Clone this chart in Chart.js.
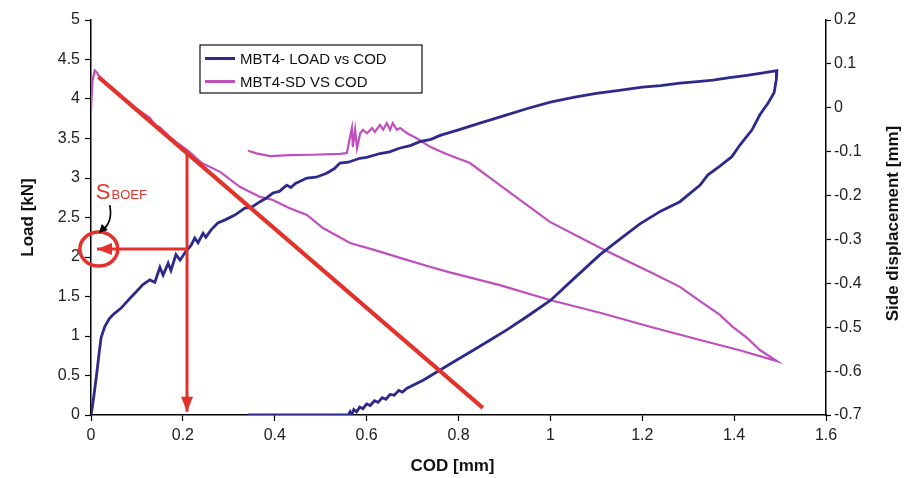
<!DOCTYPE html>
<html>
<head>
<meta charset="utf-8">
<script src="https://cdn.jsdelivr.net/npm/chart.js@4"></script>
<style>
  html, body { margin: 0; padding: 0; background: #fff; }
</style>
</head>
<body>
<canvas id="chart" width="912" height="478"></canvas>
<script>
// ticks
const codTicks = [0, 0.2, 0.4, 0.6, 0.8, 1, 1.2, 1.4, 1.6];
const loadTicks = [0, 0.5, 1, 1.5, 2, 2.5, 3, 3.5, 4, 4.5, 5];
const sdTicks = [-0.7, -0.6, -0.5, -0.4, -0.3, -0.2, -0.1, 0, 0.1, 0.2];

// MBT4 load vs COD (loading, then unloading)
const loadCod = [0, 0.003, 0.008, 0.013, 0.018, 0.022, 0.03, 0.04, 0.05, 0.065, 0.087, 0.1, 0.113, 0.128, 0.139,
  0.15, 0.157, 0.168, 0.174, 0.185, 0.194, 0.205, 0.218, 0.226, 0.233, 0.244, 0.25, 0.261, 0.276, 0.292, 0.313,
  0.335, 0.35, 0.368, 0.38, 0.396, 0.41, 0.426, 0.435, 0.445, 0.47, 0.49, 0.513, 0.53, 0.542, 0.56, 0.585, 0.6,
  0.629, 0.65, 0.673, 0.695, 0.716, 0.74, 0.76, 0.8, 0.85, 0.9, 0.95, 1.0, 1.05, 1.1, 1.15, 1.2, 1.24, 1.282,
  1.32, 1.354, 1.39, 1.428, 1.463, 1.493,
  1.492, 1.487, 1.474, 1.456, 1.439, 1.413, 1.395, 1.369, 1.343, 1.326, 1.282, 1.24, 1.195, 1.15, 1.108, 1.05,
  1.0, 0.95, 0.906, 0.869, 0.832, 0.797, 0.76, 0.723, 0.688, 0.678, 0.67, 0.66, 0.651, 0.642, 0.634, 0.625,
  0.617, 0.608, 0.6, 0.592, 0.585, 0.578, 0.572, 0.567, 0.564, 0.56, 0.45, 0.342];
const loadVal = [0, 0.1, 0.32, 0.55, 0.8, 0.98, 1.12, 1.22, 1.28, 1.35, 1.49, 1.57, 1.65, 1.71, 1.68,
  1.87, 1.77, 1.92, 1.83, 2.03, 1.96, 2.06, 2.15, 2.24, 2.18, 2.30, 2.25, 2.34, 2.43, 2.47, 2.53,
  2.62, 2.63, 2.70, 2.74, 2.81, 2.83, 2.91, 2.88, 2.93, 3.0, 3.01, 3.06, 3.12, 3.19, 3.2, 3.25, 3.26,
  3.31, 3.33, 3.38, 3.41, 3.46, 3.49, 3.54, 3.61, 3.70, 3.79, 3.88, 3.96, 4.02, 4.07, 4.11, 4.15, 4.17, 4.2,
  4.22, 4.24, 4.27, 4.30, 4.33, 4.36,
  4.25, 4.08, 3.95, 3.8, 3.61, 3.42, 3.27, 3.15, 3.04, 2.91, 2.70, 2.58, 2.42, 2.22, 2.03, 1.72,
  1.45, 1.25, 1.08, 0.95, 0.82, 0.70, 0.57, 0.44, 0.34, 0.29, 0.31, 0.25, 0.26, 0.2, 0.22, 0.16,
  0.18, 0.12, 0.14, 0.08, 0.10, 0.04, 0.07, 0.0, 0.04, 0, 0, 0];

// MBT4 side displacement vs COD
const sdCod = [0, 0.003, 0.008, 0.013, 0.02, 0.04, 0.063, 0.09, 0.11, 0.128, 0.14, 0.15, 0.17, 0.19, 0.209,
  0.24, 0.281, 0.324, 0.368, 0.396, 0.43, 0.47, 0.505, 0.564, 0.62, 0.673, 0.73, 0.781, 0.89, 0.999, 1.108,
  1.217, 1.326, 1.41, 1.493,
  1.456, 1.428, 1.397, 1.369, 1.332, 1.282, 1.217, 1.108, 0.999, 0.89, 0.825, 0.775, 0.738, 0.71, 0.688,
  0.673, 0.666, 0.657, 0.651, 0.644, 0.636, 0.629, 0.618, 0.612, 0.601, 0.592, 0.586, 0.579, 0.575, 0.57,
  0.568, 0.564, 0.557, 0.542, 0.48, 0.433, 0.39, 0.36, 0.342];
const sdVal = [-0.005, 0.06, 0.085, 0.08, 0.068, 0.048, 0.029, 0.005, -0.01, -0.023, -0.04, -0.045, -0.065, -0.082, -0.096,
  -0.125, -0.146, -0.18, -0.203, -0.21, -0.228, -0.244, -0.274, -0.308, -0.325, -0.342, -0.36, -0.375, -0.404, -0.438, -0.467,
  -0.499, -0.529, -0.552, -0.577,
  -0.552, -0.524, -0.499, -0.472, -0.445, -0.408, -0.374, -0.319, -0.26, -0.176, -0.126, -0.106, -0.089, -0.07, -0.058,
  -0.046, -0.05, -0.035, -0.05, -0.035, -0.05, -0.039, -0.055, -0.046, -0.058, -0.05, -0.058, -0.092, -0.05, -0.089,
  -0.046, -0.066, -0.103, -0.105, -0.107, -0.108, -0.11, -0.104, -0.098];

// red construction lines (COD, load)
const slopeCod = [0.016, 0.853];
const slopeLoad = [4.28, 0.09];
const dropCod = [0.209, 0.209];
const dropLoad = [3.33, 0.04];
const sideCod = [0.209, 0.013];
const sideLoad = [2.1, 2.1];

const BLUE = '#2e2a8c';
const PINK = '#c04fbe';
const RED = '#e3322b';
const FONT = "'Liberation Sans', Arial, sans-serif";

const zip = (xs, ys) => xs.map((v, i) => ({x: v, y: ys[i]}));

const overlay = {
  id: 'overlay',
  afterDatasetsDraw(chart) {
    const {ctx, scales: {x, y}} = chart;
    ctx.save();
    ctx.fillStyle = RED;
    // arrow down
    let ax = x.getPixelForValue(dropCod[1]), ay = y.getPixelForValue(dropLoad[1]);
    ctx.beginPath();
    ctx.moveTo(ax, ay); ctx.lineTo(ax - 6, ay - 15); ctx.lineTo(ax + 6, ay - 15);
    ctx.closePath(); ctx.fill();
    // arrow left
    ax = x.getPixelForValue(sideCod[1]); ay = y.getPixelForValue(sideLoad[1]);
    ctx.beginPath();
    ctx.moveTo(ax, ay); ctx.lineTo(ax + 15, ay - 6); ctx.lineTo(ax + 15, ay + 6);
    ctx.closePath(); ctx.fill();
    // ellipse round S_BOEF
    const ex = x.getPixelForValue(0.017), ey = y.getPixelForValue(sideLoad[1]);
    ctx.strokeStyle = RED;
    ctx.lineWidth = 3.5;
    ctx.beginPath();
    ctx.ellipse(ex, ey, 19, 17, 0, 0, Math.PI * 2);
    ctx.stroke();
    // label
    ctx.fillStyle = RED;
    ctx.textBaseline = 'alphabetic';
    ctx.textAlign = 'left';
    ctx.font = '22px ' + FONT;
    const lx = ex - 3, ly = ey - 50;
    ctx.fillText('S', lx, ly);
    const sw = ctx.measureText('S').width;
    ctx.font = '13px ' + FONT;
    ctx.fillText('BOEF', lx + sw + 1, ly);
    // black curved pointer
    ctx.strokeStyle = '#000';
    ctx.fillStyle = '#000';
    ctx.lineWidth = 1.6;
    ctx.beginPath();
    ctx.moveTo(lx + 14, ly + 6);
    ctx.quadraticCurveTo(lx + 17, ly + 22, lx + 8, ly + 30);
    ctx.stroke();
    ctx.beginPath();
    ctx.moveTo(lx + 3, ly + 34);
    ctx.lineTo(lx + 6, ly + 25);
    ctx.lineTo(lx + 12, ly + 31);
    ctx.closePath();
    ctx.fill();
    ctx.restore();
  },
  afterDraw(chart) {
    const {ctx, chartArea: ca} = chart;
    ctx.save();
    // axis titles
    ctx.fillStyle = '#111';
    ctx.font = 'bold 17px ' + FONT;
    ctx.textAlign = 'center';
    ctx.textBaseline = 'middle';
    ctx.fillText('COD [mm]', (ca.left + ca.right) / 2 - 6, ca.bottom + 51);
    ctx.save();
    ctx.translate(ca.left - 63, (ca.top + ca.bottom) / 2);
    ctx.rotate(-Math.PI / 2);
    ctx.fillText('Load [kN]', 0, 0);
    ctx.restore();
    ctx.save();
    ctx.translate(ca.right + 67, (ca.top + ca.bottom) / 2 + 6);
    ctx.rotate(-Math.PI / 2);
    ctx.fillText('Side displacement [mm]', 0, 0);
    ctx.restore();
    // legend
    const bx = ca.left + 109, by = ca.top + 25;
    ctx.fillStyle = '#fff';
    ctx.fillRect(bx, by, 222, 48);
    ctx.strokeStyle = '#111';
    ctx.lineWidth = 1.2;
    ctx.strokeRect(bx, by, 222, 48);
    ctx.font = '15px ' + FONT;
    ctx.textAlign = 'left';
    ctx.fillStyle = '#111';
    const items = chart.data.datasets.filter(d => d.inLegend);
    items.forEach((d, i) => {
      const iy = by + 13.5 + i * 23;
      ctx.strokeStyle = d.borderColor;
      ctx.lineWidth = 3;
      ctx.beginPath();
      ctx.moveTo(bx + 5, iy); ctx.lineTo(bx + 35, iy);
      ctx.stroke();
      ctx.fillText(d.label, bx + 40, iy + 1);
    });
    ctx.restore();
  }
};

const tickFont = {family: FONT, size: 16};

new Chart(document.getElementById('chart'), {
  type: 'line',
  data: {
    datasets: [
      {label: 'slope', data: zip(slopeCod, slopeLoad), yAxisID: 'y', borderColor: RED, borderWidth: 4, order: 0},
      {label: 'drop', data: zip(dropCod, dropLoad), yAxisID: 'y', borderColor: RED, borderWidth: 3, order: 0},
      {label: 'side', data: zip(sideCod, sideLoad), yAxisID: 'y', borderColor: RED, borderWidth: 3, order: 0},
      {label: 'MBT4- LOAD vs COD', inLegend: true, data: zip(loadCod, loadVal), yAxisID: 'y',
        borderColor: BLUE, borderWidth: 2.8, order: 1},
      {label: 'MBT4-SD VS COD', inLegend: true, data: zip(sdCod, sdVal), yAxisID: 'y1',
        borderColor: PINK, borderWidth: 2.2, order: 2}
    ]
  },
  options: {
    responsive: false,
    animation: false,
    devicePixelRatio: 1,
    layout: {padding: {top: 20, left: 0, right: 0, bottom: 0}},
    elements: {point: {radius: 0}, line: {tension: 0, fill: false}},
    plugins: {legend: {display: false}, tooltip: {enabled: false}},
    scales: {
      x: {
        type: 'linear', min: 0, max: 1.6,
        afterBuildTicks: s => { s.ticks = codTicks.map(v => ({value: v})); },
        afterFit: s => { s.height = 63; },
        ticks: {font: tickFont, color: '#222', padding: 5, maxRotation: 0, callback: v => String(v)},
        grid: {drawOnChartArea: false, drawTicks: true, tickLength: 6, color: '#000', tickWidth: 1.2},
        border: {color: '#000', width: 1.5}
      },
      y: {
        position: 'left', min: 0, max: 5,
        afterBuildTicks: s => { s.ticks = loadTicks.map(v => ({value: v})); },
        afterFit: s => { s.width = 91; },
        ticks: {font: tickFont, color: '#222', padding: 5, callback: v => String(v)},
        grid: {drawOnChartArea: false, drawTicks: true, tickLength: 6, color: '#000', tickWidth: 1.2},
        border: {color: '#000', width: 1.5}
      },
      y1: {
        position: 'right', min: -0.7, max: 0.2,
        afterBuildTicks: s => { s.ticks = sdTicks.map(v => ({value: v})); },
        afterFit: s => { s.width = 86; },
        ticks: {font: tickFont, color: '#222', padding: 3, callback: v => String(v)},
        grid: {drawOnChartArea: false, drawTicks: true, tickLength: 5, color: '#000', tickWidth: 1.2},
        border: {color: '#000', width: 1.5}
      }
    }
  },
  plugins: [overlay]
});
</script>
</body>
</html>
